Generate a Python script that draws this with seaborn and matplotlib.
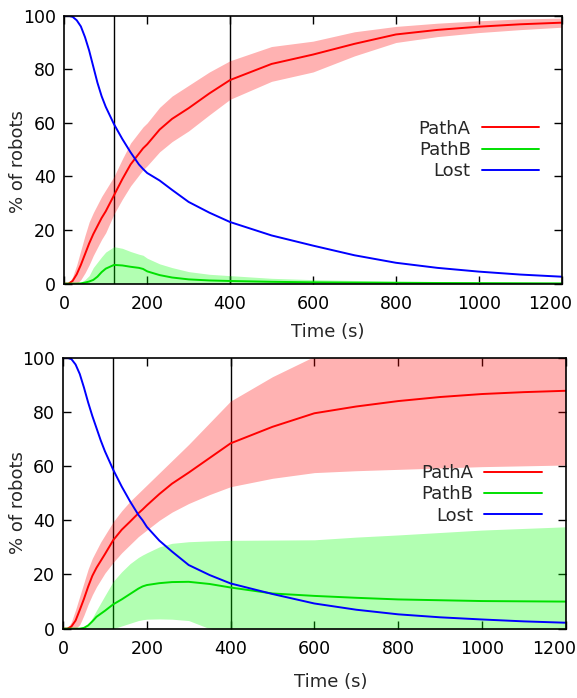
import matplotlib
matplotlib.use("Agg")
import matplotlib.pyplot as plt
from matplotlib.lines import Line2D
from matplotlib.transforms import ScaledTranslation
import pandas as pd
import seaborn as sns

# Sample times (s)
time_s = [0, 10, 20, 30, 40, 50, 60, 70, 80, 90, 100, 120, 140, 160, 180, 190,
          200, 230, 260, 300, 350, 400, 500, 600, 700, 800, 900, 1000, 1100, 1200]

# ---- Scenario 1 (upper panel) ----
s1_patha = [0, 0, 1, 3.5, 7, 11, 15, 18.5, 21.5, 24.5, 27, 33, 39, 44.5, 48.5, 50.5,
            52, 57.5, 61.5, 65.5, 71, 76, 82, 85.5, 89.5, 93, 94.7, 95.9, 96.8, 97.4]
s1_patha_lo = [0, 0, 0, 0, 1.5, 4, 7, 10.5, 13.5, 16.5, 19, 26, 31.5, 36.5, 40.5, 42.5,
               44, 49.2, 53, 57, 63, 68.8, 75.5, 79, 85, 90, 92.2, 93.7, 94.8, 95.7]
s1_patha_hi = [0, 0, 2.5, 7, 12.5, 18, 23, 26.5, 29.5, 32.5, 35, 40, 46.5, 52.5, 56.5, 58.5,
               60, 65.8, 70, 74, 79, 83.2, 88.5, 90.5, 94, 96, 97.2, 98.1, 98.8, 99.1]

s1_pathb = [0, 0, 0, 0, 0.1, 0.4, 0.8, 1.4, 2.6, 4.3, 5.6, 7, 6.8, 6.3, 5.9, 5.5,
            4.6, 3.2, 2.3, 1.6, 1.2, 1.0, 0.7, 0.5, 0.4, 0.3, 0.25, 0.2, 0.15, 0.1]
s1_pathb_lo = [0] * 30
s1_pathb_hi = [0, 0, 0, 0, 0.5, 1.5, 3, 6, 8, 10, 11.8, 13.8, 13.2, 12, 11, 10.6,
               9.5, 7.4, 6, 4.5, 3.5, 3, 2, 1.5, 1.2, 1, 0.8, 0.7, 0.6, 0.5]

s1_lost = [100, 100, 99.6, 98.3, 96, 92, 87, 81, 75, 70, 66, 59.5, 54, 49, 44.5, 42.8,
           41.3, 38.5, 35, 30.5, 26.5, 23, 18, 14.2, 10.6, 7.8, 5.9, 4.5, 3.4, 2.6]

# ---- Scenario 2 (lower panel) ----
s2_patha = [0, 0, 0.8, 3, 6.9, 11, 15.5, 19.5, 22.5, 25, 27.5, 32.7, 36.5, 39.5, 42.6, 44,
            45.5, 49.7, 53.5, 57.6, 63, 68.4, 74.5, 79.5, 82, 84, 85.5, 86.6, 87.3, 87.8]
s2_patha_lo = [0, 0, 0, 0, 1.5, 5, 9, 12.5, 15.5, 18, 20.5, 24.5, 28, 31, 34, 35.2,
               36.4, 40, 43, 46.2, 49.5, 52.4, 55.5, 57.6, 58.3, 58.8, 59.3, 59.8, 60.1, 60.4]
s2_patha_hi = [0, 0, 2.5, 7, 12, 17, 22, 26, 29, 32, 34.5, 39.5, 43.5, 47, 50, 51.5,
               53, 57.5, 62, 68, 76, 84, 93, 100.5, 105, 108, 110, 112, 113, 115]

s2_pathb = [0, 0, 0, 0, 0, 0.3, 1.2, 2.7, 4.4, 5.5, 6.6, 9, 10.8, 12.8, 14.8, 15.6,
            16.1, 16.8, 17.2, 17.3, 16.5, 15.2, 13, 12.1, 11.4, 10.8, 10.5, 10.2, 10.1, 10.0]
s2_pathb_lo = [0, 0, 0, 0, 0, 0, 0, 0, 0, 0, 0, 0, 1, 2, 3, 3.3,
               3.5, 3.6, 3.5, 3.0, 0, -2.2, -6.7, -8.6, -11, -13, -14.5, -16, -16.8, -17.6]
s2_pathb_hi = [0, 0, 0, 0, 0, 0, 1.5, 4, 6.8, 9.5, 12.2, 17.5, 21, 24, 26.3, 27.2,
               28, 30.2, 31.5, 32.1, 32.4, 32.6, 32.7, 32.8, 33.8, 34.6, 35.5, 36.4, 37, 37.6]

s2_lost = [100, 100, 99.5, 97.5, 94, 89, 83.5, 78.5, 74, 69.5, 65.5, 58.6, 52.5, 47, 42, 40,
           37.6, 32.5, 28.5, 23.5, 19.8, 16.7, 12.8, 9.3, 7, 5.3, 4.2, 3.4, 2.7, 2.2]

series_names = ["PathA", "PathB", "Lost"]
line_colors = {"PathA": "#ff0000", "PathB": "#00e000", "Lost": "#0000ff"}
band_colors = {"PathA": "#ff0000", "PathB": "#00ff00"}
phase_marks = [120, 400]
x_ticks = [0, 200, 400, 600, 800, 1000, 1200]
y_ticks = [0, 20, 40, 60, 80, 100]

sns.set_style("ticks")
plt.rcParams["font.family"] = ["DejaVu Sans"]
TICK_FS = 12.5
LABEL_FS = 13

fig = plt.figure(figsize=(5.77, 6.98), dpi=100)

panels = [
    dict(rect=[0.1114, 0.5936, 0.8621, 0.3839],
         mean={"PathA": s1_patha, "PathB": s1_pathb, "Lost": s1_lost},
         band={"PathA": (s1_patha_lo, s1_patha_hi), "PathB": (s1_pathb_lo, s1_pathb_hi)},
         ylab=(-0.074, 0.456), xlab=(0.530, -0.148), leg=(0.955, 0.612)),
    dict(rect=[0.1092, 0.0993, 0.8712, 0.3882],
         mean={"PathA": s2_patha, "PathB": s2_pathb, "Lost": s2_lost},
         band={"PathA": (s2_patha_lo, s2_patha_hi), "PathB": (s2_pathb_lo, s2_pathb_hi)},
         ylab=(-0.071, 0.466), xlab=(0.5325, -0.163), leg=(0.953, 0.607)),
]

for p in panels:
    ax = fig.add_axes(p["rect"])
    ax.set_axisbelow(True)

    for xv in phase_marks:
        ax.axvline(xv, color="black", lw=1.0, zorder=0.9)

    for name, (lo, hi) in p["band"].items():
        ax.fill_between(time_s, lo, hi, color=band_colors[name], alpha=0.3,
                        linewidth=0, zorder=1)

    df = pd.DataFrame({
        "Time": time_s * 3,
        "pct": p["mean"]["PathA"] + p["mean"]["PathB"] + p["mean"]["Lost"],
        "series": [n for n in series_names for _ in time_s],
    })
    sns.lineplot(data=df, x="Time", y="pct", hue="series", hue_order=series_names,
                 palette=line_colors, errorbar=None, lw=1.4, legend=False, ax=ax,
                 zorder=2)

    ax.set_xlim(0, 1200)
    ax.set_ylim(0, 100)
    ax.set_xticks(x_ticks)
    ax.set_yticks(y_ticks)
    ax.tick_params(direction="in", length=6, width=1.0, top=True, right=True,
                   labelsize=TICK_FS, colors="black")
    ax.tick_params(axis="x", pad=8.5)
    ax.tick_params(axis="y", pad=6)
    for sp in ax.spines.values():
        sp.set_visible(True)
        sp.set_linewidth(1.2)
        sp.set_color("black")
        sp.set_zorder(3)

    # keep the last x tick label inside the canvas
    last = ax.get_xticklabels()[-1]
    last.set_transform(last.get_transform() +
                       ScaledTranslation(-12 / 100, 0, fig.dpi_scale_trans))

    ax.set_xlabel("Time (s)", fontsize=LABEL_FS)
    ax.set_ylabel("% of robots", fontsize=LABEL_FS)
    ax.xaxis.set_label_coords(*p["xlab"])
    ax.yaxis.set_label_coords(*p["ylab"])

    handles = [Line2D([], [], color=line_colors[n], lw=1.4) for n in series_names]
    ax.legend(handles, series_names, loc="upper right", bbox_to_anchor=p["leg"],
              frameon=False, markerfirst=False, borderpad=0, borderaxespad=0,
              handlelength=3.19, handletextpad=0.61, labelspacing=0.18,
              fontsize=LABEL_FS)

fig.savefig("out.png", dpi=100)
